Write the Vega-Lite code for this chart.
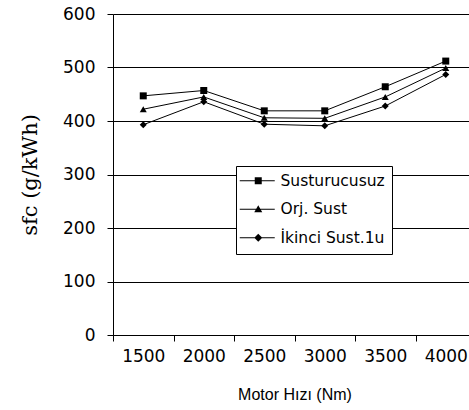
{
  "$schema": "https://vega.github.io/schema/vega-lite/v6.json",
  "autosize": {"type": "none"},
  "padding": {"left": 113, "top": 14, "right": 0, "bottom": 75},
  "width": 363,
  "height": 321,
  "background": "white",
  "config": {
    "view": {"stroke": null},
    "axis": {
      "domainColor": "black", "tickColor": "black", "gridColor": "black",
      "gridOpacity": 1, "labelColor": "black", "titleColor": "black",
      "labelFont": "DejaVu Sans", "labelFontSize": 17, "tickSize": 6,
      "domainWidth": 1, "tickWidth": 1, "gridWidth": 1
    }
  },
  "data": {
    "values": [
      {"rpm": "1500", "seri": "Susturucusuz", "sfc": 447},
      {"rpm": "2000", "seri": "Susturucusuz", "sfc": 457},
      {"rpm": "2500", "seri": "Susturucusuz", "sfc": 419},
      {"rpm": "3000", "seri": "Susturucusuz", "sfc": 419},
      {"rpm": "3500", "seri": "Susturucusuz", "sfc": 464},
      {"rpm": "4000", "seri": "Susturucusuz", "sfc": 512},
      {"rpm": "1500", "seri": "Orj. Sust", "sfc": 422},
      {"rpm": "2000", "seri": "Orj. Sust", "sfc": 445},
      {"rpm": "2500", "seri": "Orj. Sust", "sfc": 406},
      {"rpm": "3000", "seri": "Orj. Sust", "sfc": 405},
      {"rpm": "3500", "seri": "Orj. Sust", "sfc": 445},
      {"rpm": "4000", "seri": "Orj. Sust", "sfc": 499},
      {"rpm": "1500", "seri": "İkinci Sust.1u", "sfc": 393},
      {"rpm": "2000", "seri": "İkinci Sust.1u", "sfc": 436},
      {"rpm": "2500", "seri": "İkinci Sust.1u", "sfc": 394},
      {"rpm": "3000", "seri": "İkinci Sust.1u", "sfc": 391},
      {"rpm": "3500", "seri": "İkinci Sust.1u", "sfc": 428},
      {"rpm": "4000", "seri": "İkinci Sust.1u", "sfc": 487}
    ]
  },
  "encoding": {
    "x": {
      "field": "rpm", "type": "ordinal",
      "scale": {"paddingInner": 0, "paddingOuter": 0},
      "axis": {
        "labelAngle": 0, "tickBand": "extent", "labelPadding": 7,
        "title": "Motor Hızı (Nm)", "titleFont": "Liberation Sans",
        "titleFontSize": 16, "titleFontWeight": "normal", "titlePadding": 22
      }
    },
    "y": {
      "field": "sfc", "type": "quantitative",
      "scale": {"domain": [0, 600], "nice": false},
      "axis": {
        "values": [0, 100, 200, 300, 400, 500, 600], "labelPadding": 12,
        "title": "sfc (g/kWh)", "titleFont": "DejaVu Serif",
        "titleFontSize": 21, "titleFontWeight": "normal", "titlePadding": 22
      }
    }
  },
  "resolve": {"scale": {"shape": "independent"}, "legend": {"shape": "independent"}},
  "layer": [
    {
      "mark": {"type": "line", "color": "black", "strokeWidth": 1},
      "encoding": {"detail": {"field": "seri"}}
    },
    {
      "mark": {"type": "point", "filled": true, "color": "black", "opacity": 1, "size": 49},
      "encoding": {
        "shape": {
          "field": "seri", "type": "nominal",
          "scale": {"domain": ["Susturucusuz", "Orj. Sust", "İkinci Sust.1u"], "range": ["square", "triangle-up", "diamond"]},
          "legend": null
        }
      }
    },
    {
      "mark": {"type": "point", "filled": true, "color": "black", "opacity": 0},
      "encoding": {
        "shape": {
          "field": "seri", "type": "nominal",
          "scale": {
            "domain": ["Susturucusuz", "Orj. Sust", "İkinci Sust.1u"],
            "range": [
              "M-2.2,-0.1H4.8V0.1H-2.2ZM0.8,-0.7H2.2V0.7H0.8Z",
              "M-2.2,-0.1H4.8V0.1H-2.2ZM1.5,-0.8L2.3,0.6H0.7Z",
              "M-2.2,-0.1H4.8V0.1H-2.2ZM1.5,-0.8L2.3,0L1.5,0.8L0.7,0Z"
            ]
          },
          "legend": {
            "title": null, "orient": "none", "legendX": 123, "legendY": 152,
            "fillColor": "white", "strokeColor": "black", "padding": 7,
            "cornerRadius": 0, "symbolSize": 100, "labelOffset": 22,
            "labelFont": "DejaVu Sans", "labelFontSize": 15.5, "labelColor": "black",
            "rowPadding": 11.5, "symbolFillColor": "black", "symbolStrokeColor": "black",
            "symbolStrokeWidth": 0, "symbolOpacity": 1
          }
        }
      }
    }
  ]
}
